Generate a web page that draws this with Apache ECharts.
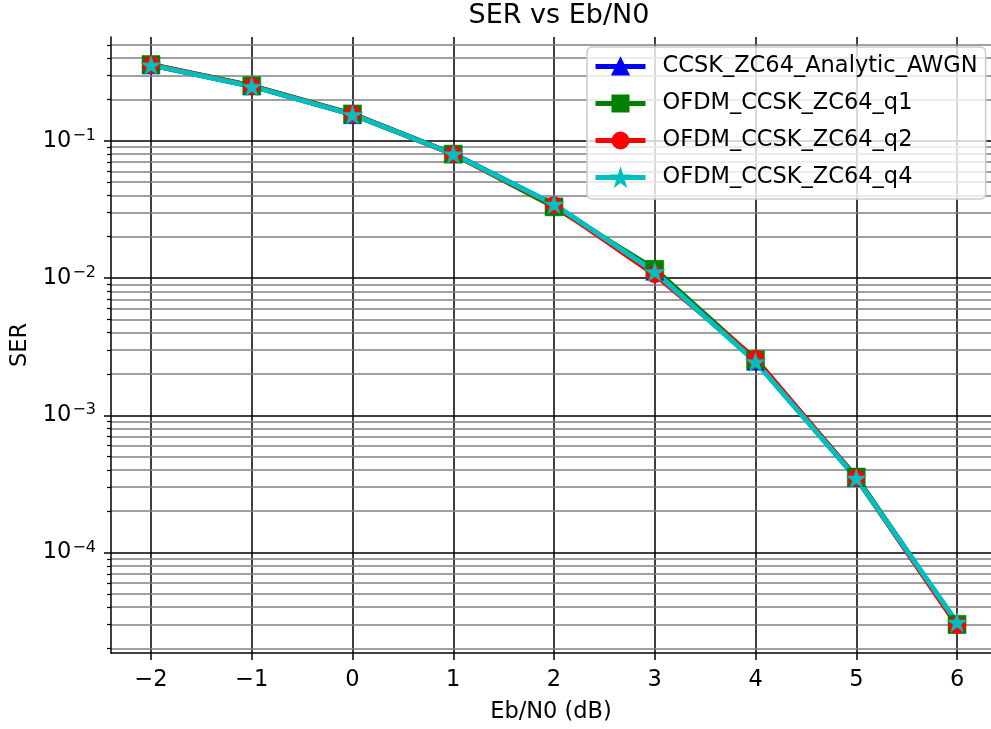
<!DOCTYPE html>
<html>
<head>
<meta charset="utf-8">
<script src="https://cdn.jsdelivr.net/npm/echarts@6/dist/echarts.min.js"></script>
<style>
html,body{margin:0;padding:0;background:#fff;}
#chart{width:991px;height:729px;}
</style>
</head>
<body>
<div id="chart"></div>
<script>
// ---- data ----
const ebn0 = [-2, -1, 0, 1, 2, 3, 4, 5, 6];
const serAnalytic = [0.357, 0.251, 0.155, 0.0805, 0.0342, 0.0112, 0.00248, 0.000352, 3.0e-5];
const serQ1 = [0.360, 0.252, 0.157, 0.0800, 0.0330, 0.0116, 0.00254, 0.000355, 3.0e-5];
const serQ2 = [0.358, 0.250, 0.156, 0.0798, 0.0340, 0.0106, 0.00258, 0.000350, 2.95e-5];
const serQ4 = [0.356, 0.249, 0.155, 0.0802, 0.0345, 0.0111, 0.00245, 0.000348, 3.1e-5];
const seriesNames = ['CCSK_ZC64_Analytic_AWGN', 'OFDM_CCSK_ZC64_q1', 'OFDM_CCSK_ZC64_q2', 'OFDM_CCSK_ZC64_q4'];
const xTicks = [-2, -1, 0, 1, 2, 3, 4, 5, 6];
const yMajorTicks = [1e-4, 1e-3, 1e-2, 1e-1];
const xMin = -2.397, xMax = 6.337;
const yMin = 1.853e-5, yMax = 0.5707;

// minor ticks (2..9 x 10^k inside the range)
const yMinorTicks = [];
for (let e = -5; e <= -1; e++) {
  for (let m = 2; m <= 9; m++) {
    const v = m * Math.pow(10, e);
    if (v >= yMin && v <= yMax) yMinorTicks.push(v);
  }
}

const starPath = 'path://M50,0 L61.2,34.6 L97.6,34.5 L68.1,55.9 L79.4,90.5 L50,69 L20.6,90.5 L31.9,55.9 L2.4,34.5 L38.8,34.6 Z';

function pairs(ys) { return ebn0.map((x, i) => [x, ys[i]]); }
function minusFmt(v) { return v < 0 ? '\u2212' + Math.abs(v) : String(v); }
const FONT = 'DejaVu Sans';
const FS = 22.5;

const chart = echarts.init(document.getElementById('chart'), null, {renderer: 'canvas'});

const lineW = 5;
function mkSeries(name, ys, color, symbol, size) {
  return {
    name: name, type: 'line', data: pairs(ys),
    symbol: symbol, symbolSize: size, symbolKeepAspect: true,
    showAllSymbol: true,
    lineStyle: {color: color, width: lineW},
    itemStyle: {color: color, borderColor: color, borderWidth: 0.5, opacity: 1},
    emphasis: {disabled: true},
    animation: false,
    yAxisIndex: 0, xAxisIndex: 0,
    z: 5
  };
}

const option = {
  backgroundColor: '#ffffff',
  animation: false,
  textStyle: {fontFamily: FONT},
  title: {
    text: 'SER vs Eb/N0', left: 554, top: -3, textAlign: 'center',
    textStyle: {fontFamily: FONT, fontSize: 27, fontWeight: 'normal', color: '#000'}
  },
  grid: {left: 111, top: 37, right: 0, bottom: 75, containLabel: false},
  legend: {
    orient: 'vertical', left: 587, top: 47,
    padding: [8, 8, 10, 6],
    itemWidth: 50, itemHeight: 20, itemGap: 14,
    backgroundColor: 'rgba(255,255,255,0.8)',
    borderColor: '#cccccc', borderWidth: 1.5, borderRadius: 5,
    lineStyle: {width: 5},
    textStyle: {fontFamily: FONT, fontSize: FS, color: '#000', padding: [0, 0, 0, 12]},
    data: seriesNames
  },
  xAxis: {
    type: 'value', min: xMin, max: xMax,
    name: 'Eb/N0 (dB)', nameLocation: 'middle', nameGap: 48,
    nameTextStyle: {fontFamily: FONT, fontSize: FS, color: '#000'},
    axisLine: {show: true, onZero: false, lineStyle: {color: '#000', width: 1.5}},
    axisTick: {show: true, length: 7, inside: false, customValues: xTicks, lineStyle: {color: '#000', width: 1.5}},
    axisLabel: {customValues: xTicks, formatter: minusFmt, fontFamily: FONT, fontSize: FS, color: '#000', margin: 16},
    splitLine: {show: true, lineStyle: {color: '#000', width: 1.5}}
  },
  yAxis: [
    {
      type: 'log', logBase: 10, min: yMin, max: yMax, position: 'left',
      name: 'SER', nameLocation: 'middle', nameGap: 74, nameRotate: 90,
      nameTextStyle: {fontFamily: FONT, fontSize: FS, color: '#000'},
      axisLine: {show: true, onZero: false, lineStyle: {color: '#000', width: 1.5}},
      axisTick: {show: true, length: 7, customValues: yMajorTicks, lineStyle: {color: '#000', width: 1.5}},
      axisLabel: {
        customValues: yMajorTicks, margin: 15, color: '#000',
        formatter: function (v) {
          const e = Math.round(Math.log10(v));
          return '{b|10}{s|\u2212' + Math.abs(e) + '}';
        },
        rich: {
          b: {fontFamily: FONT, fontSize: FS, color: '#000', verticalAlign: 'middle', lineHeight: 26},
          s: {fontFamily: FONT, fontSize: 16, color: '#000', verticalAlign: 'top', padding: [0, 0, 14, 1], lineHeight: 26}
        }
      },
      splitLine: {show: true, lineStyle: {color: '#000', width: 1.5}},
      z: 3
    },
    {
      type: 'log', logBase: 10, min: yMin, max: yMax, position: 'left',
      axisLine: {show: false, onZero: false},
      axisTick: {show: true, length: 4, customValues: yMinorTicks, lineStyle: {color: '#000', width: 1.2}},
      axisLabel: {show: false},
      splitLine: {show: true, lineStyle: {color: '#808080', width: 1.5}},
      z: 1
    }
  ],
  series: [
    mkSeries(seriesNames[0], serAnalytic, '#0000ff', 'triangle', 18),
    mkSeries(seriesNames[1], serQ1, '#008000', 'rect', 18),
    mkSeries(seriesNames[2], serQ2, '#ff0000', 'circle', 17),
    mkSeries(seriesNames[3], serQ4, '#00bfbf', starPath, 20)
  ]
};
chart.setOption(option);
</script>
</body>
</html>
